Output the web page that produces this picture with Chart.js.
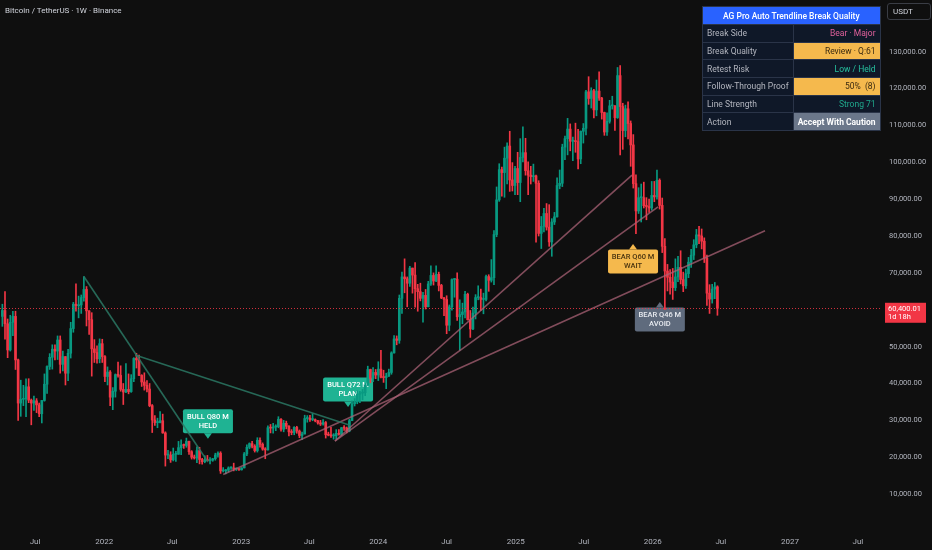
<!DOCTYPE html>
<html>
<head>
<meta charset="utf-8">
<title>BTCUSDT 1W</title>
<script src="https://cdn.jsdelivr.net/npm/chart.js@4.4.1/dist/chart.umd.min.js"></script>
<style>
html, body { margin: 0; padding: 0; background: #0f0f0f; }
#wrap { position: relative; width: 932px; height: 550px; overflow: hidden; font-family: Roboto, "Liberation Sans", sans-serif; }
#myChart { position: absolute; left: 0; top: 0; }
#title { position: absolute; left: 5px; top: 5px; font-size: 8px; line-height: 11px; color: #d1d4dc; }
#unit { position: absolute; left: 887px; top: 3px; width: 37px; height: 15px; border: 1px solid #3a3d45; border-radius: 3px;
        font-size: 8px; line-height: 15px; color: #d1d4dc; padding-left: 5px; box-sizing: content-box; }
#panel { position: absolute; left: 702px; top: 6px; width: 177px; border-collapse: collapse; font-size: 8.5px; color: #b2b5be; }
#panel th { background: #2962ff; color: #ffffff; font-weight: 500; height: 17px; padding: 0; border: 1px solid #2a3448; text-align: center; }
#panel td { background: #0f1828; height: 16.7px; padding: 0 4px; border: 1px solid #2a3448; white-space: pre; }
#panel td.v { text-align: right; width: 78px; }
</style>
</head>
<body>
<div id="wrap">
  <canvas id="myChart" width="932" height="550"></canvas>
  <div id="title">Bitcoin / TetherUS · 1W · Binance</div>
  <div id="unit">USDT</div>
  <table id="panel">
    <thead><tr><th colspan="2" id="panelTitle"></th></tr></thead>
    <tbody id="panelBody"></tbody>
  </table>
</div>
<script>
// weekly candles, first one = week of 2021-04-05, prices in thousands of USDT
const firstOpenK = 58.2;
const closesK = [
  // 2021
  59.8,56.2,49.1,56.6,58.2,46.4,34.7,35.7,35.8,39.1, 35.5,34.7,35.3,34.2,31.8,35.4,39.8,44.6,47.1,49.3,
  48.8,51.8,45.2,47.3,42.8,48.2,54.9,61.5,61.1,61.3, 63.3,65.5,59.7,57.3,49.4,48.4,46.7,50.8,47.3,
  // 2022
  41.9,43.1,36.3,37.9,42.4,42.2,38.4,37.7,38.4,37.8, 41.3,46.8,46.4,42.2,40.4,39.5,38.5,34.0,30.1,29.4,
  29.4,29.9,26.6,20.6,20.6,19.3,20.8,20.8,22.6,23.3, 23.2,24.3,21.5,20.0,19.8,21.8,19.4,18.8,19.3,19.1,
  19.2,19.6,20.6,21.1,16.3,16.3,16.5,17.1,17.1,16.8, 16.8,16.6,
  // 2023
  17.1,20.9,22.7,23.7,23.0,21.8,24.6,23.5,22.2,22.0, 28.0,27.9,28.2,28.3,30.3,27.6,29.2,28.4,26.9,26.7,
  28.1,27.1,25.9,26.3,30.5,30.6,30.2,30.2,29.9,29.3, 29.0,29.4,26.1,26.0,25.8,25.8,26.5,26.2,28.0,27.9,
  27.1,29.9,34.5,35.0,37.1,37.4,37.5,39.5,43.8,41.4, 43.0,42.3,
  // 2024
  43.9,41.7,41.6,42.0,43.0,48.3,52.1,51.7,63.1,68.9, 68.4,67.2,71.3,69.4,65.7,64.9,63.1,63.9,60.8,67.0,
  69.3,67.8,69.6,66.6,63.2,62.8,55.8,60.8,68.2,68.3, 58.1,58.7,59.4,64.2,57.3,54.8,59.1,63.3,63.3,62.8,
  62.8,69.0,68.0,68.7,80.4,89.8,98.0,97.2,101.1,104.4, 95.2,93.7,98.3,
  // 2025
  94.5,101.3,102.6,97.7,96.5,96.1,96.3,94.3,80.7,82.6, 86.1,82.4,78.4,83.8,85.2,93.7,94.3,104.1,106.4,109.0,
  105.7,105.7,105.6,100.9,108.4,109.2,119.1,117.3,119.4,114.2, 119.3,117.4,113.5,108.2,111.1,115.3,115.3,112.1,123.5,115.1,
  108.6,114.5,110.5,104.7,94.2,86.8,90.4,90.4,88.2,88.0, 87.6,91.0,
  // 2026
  90.6,95.1,88.3,77.2,70.5,68.8,67.5,66.0,68.9,71.5, 68.2,66.5,69.8,72.9,74.8,77.6,80.3,80.0,78.6,74.0,
  64.5,62.9,65.6,66.2,60.4
];
const highsK = [
  61.5,64.9,57.5,58.5,59.6,59.6,46.6,40.9,39.5,41.3, 41.3,35.8,36.6,35.9,34.7,35.4,42.6,44.8,48.1,50.5,
  50.5,52.9,52.9,48.8,47.3,49.3,56.6,62.0,67.0,63.7, 64.0,69.0,66.3,59.8,59.2,51.9,50.2,52.1,52.0,
  47.6,44.5,43.5,38.9,42.6,45.8,44.8,40.0,45.4,42.6, 42.4,47.0,48.2,47.7,42.4,42.9,40.8,40.0,34.3,31.3,
  30.6,32.4,31.7,26.9,21.9,21.5,22.5,21.6,24.3,24.7, 23.6,25.2,24.4,21.8,20.6,22.8,22.7,19.7,20.4,20.5,
  19.9,19.7,21.1,21.5,21.5,17.2,16.7,17.4,17.4,18.4, 17.1,17.0,
  17.2,21.3,23.4,23.9,24.3,23.4,25.3,25.3,23.9,22.6, 28.5,28.9,29.2,28.8,31.0,30.5,30.0,29.8,28.6,27.5,
  28.3,28.4,27.4,26.8,31.4,31.3,31.4,31.8,30.4,30.0, 30.0,30.2,29.7,26.8,28.1,26.4,27.5,27.5,28.1,28.6,
  28.2,30.3,35.3,35.9,38.0,37.9,38.4,40.0,44.7,43.9, 44.3,43.8,
  45.9,49.0,43.6,42.8,43.9,48.6,53.0,52.9,64.0,70.2, 73.8,68.9,71.8,71.3,72.8,66.9,67.2,64.7,65.5,67.7,
  71.9,70.0,71.9,70.2,66.9,63.4,63.8,61.3,68.4,68.5, 70.0,62.7,61.8,65.0,64.5,59.8,60.7,64.1,66.5,65.6,
  64.5,69.4,69.5,73.6,81.5,93.3,99.6,98.7,104.1,105.3, 108.4,99.9,98.9,
  102.7,106.4,109.6,106.5,100.1,98.9,99.5,96.5,95.0,85.3, 87.5,88.8,88.5,84.7,86.4,95.8,97.9,104.9,107.1,111.9,
  110.4,106.8,110.6,108.9,108.5,110.5,119.5,123.2,120.2,119.8, 122.3,124.5,117.6,113.6,113.4,116.8,117.9,115.4,125.7,126.2,
  116.0,115.5,116.4,111.2,107.5,96.6,93.1,94.1,94.6,90.4, 90.0,94.8,
  94.8,97.9,95.5,90.3,79.3,72.3,70.9,71.2,73.8,74.5, 76.0,70.2,71.0,74.2,76.4,79.0,81.8,82.6,81.9,79.5,
  74.8,66.8,66.9,67.4,66.5
];
const lowsK = [
  55.5,52.0,47.0,48.8,53.0,43.8,30.0,31.1,34.0,31.0, 34.8,28.8,32.7,32.1,31.0,29.3,35.2,37.3,43.8,43.9,
  46.4,46.5,42.8,43.4,39.6,40.8,46.9,53.9,59.6,57.8, 59.0,62.3,55.6,53.3,42.0,45.7,45.5,45.6,45.7,
  40.5,39.6,34.0,32.9,36.3,41.7,37.9,34.3,37.5,37.2, 37.6,40.5,44.2,42.1,39.2,38.2,37.7,33.7,26.7,28.6,
  28.0,29.3,26.5,17.6,19.6,18.6,19.0,18.9,20.8,20.7, 22.4,22.7,20.8,19.5,19.5,18.5,18.2,18.1,18.5,19.0,
  18.2,18.9,19.2,20.0,15.6,16.0,15.5,16.0,16.7,16.3, 16.4,16.4,
  16.5,17.1,20.4,22.3,22.5,21.4,21.4,22.7,21.9,19.6, 21.9,26.6,26.5,27.2,28.0,27.1,26.9,27.7,25.8,26.1,
  26.1,26.5,25.3,24.8,26.3,29.5,29.7,29.9,29.6,29.0, 28.6,28.7,25.2,25.8,25.4,24.9,24.9,26.0,25.9,27.3,
  26.6,26.9,29.9,33.9,34.5,34.8,35.6,36.7,39.5,40.2, 40.5,41.3,
  40.8,41.5,40.3,38.6,41.9,42.5,48.2,50.5,50.9,59.0, 64.6,60.8,66.3,64.5,60.7,59.6,62.4,56.6,60.2,60.8,
  66.6,66.7,67.6,65.1,63.0,58.4,53.5,54.3,59.9,63.4, 57.1,49.0,56.2,57.8,57.2,52.5,54.6,57.5,62.7,59.8,
  58.9,62.4,65.0,67.5,66.8,79.8,89.4,90.8,90.5,94.1, 92.1,92.2,91.2,
  91.2,89.3,100.1,96.5,91.2,94.1,94.8,78.3,80.0,76.6, 81.1,81.6,77.2,74.5,83.1,85.1,92.8,93.4,100.7,102.0,
  103.1,100.4,102.7,98.2,99.6,105.2,107.4,115.7,114.7,112.0, 112.6,116.8,111.7,107.3,107.3,110.6,114.4,108.6,111.9,102.0,
  103.5,106.9,106.3,98.9,93.0,80.6,86.1,83.8,87.6,84.4, 86.4,87.0,
  89.3,90.0,87.3,75.5,60.0,65.1,64.2,62.8,65.2,67.6, 67.0,64.9,65.8,68.7,71.5,73.6,76.8,77.9,76.5,72.8,
  61.2,59.0,61.8,63.0,58.5
];
const lastPrice = 60400.01;
const barCountdown = '1d 18h';

// x axis: weeks since first candle
const xTickWeeks = [12.43, 38.71, 64.57, 90.86, 116.71, 143.0, 169.0, 195.29, 221.14, 247.43, 273.29, 299.57, 325.43];
const xTickLabels = ['Jul', '2022', 'Jul', '2023', 'Jul', '2024', 'Jul', '2025', 'Jul', '2026', 'Jul', '2027', 'Jul'];
const priceTicksK = [10, 20, 30, 40, 50, 60, 70, 80, 90, 100, 110, 120, 130];

// auto trendlines (week, price in k)
const trendSide = ['bull', 'bull', 'bear', 'bear', 'bear'];
const trendStartWeek = [31, 50.5, 84.0, 126.5, 126.5];
const trendStartPrice = [69.0, 47.7, 15.3, 24.4, 24.4];
const trendEndWeek = [78.2, 132.2, 290.1, 239.5, 249.4];
const trendEndPrice = [18.7, 28.7, 81.4, 96.5, 87.9];

// break signals
const signalWeek = [78.2, 131.5, 239.9, 250.1];
const signalPrice = [25.0, 33.6, 77.8, 62.1];
const signalTitle = ['BULL Q80 M', 'BULL Q72 M', 'BEAR Q60 M', 'BEAR Q46 M'];
const signalStatus = ['HELD', 'PLAN', 'WAIT', 'AVOID'];

// dashboard panel
const panelTitle = 'AG Pro Auto Trendline Break Quality';
const panelLabels = ['Break Side', 'Break Quality', 'Retest Risk', 'Follow-Through Proof', 'Line Strength', 'Action'];
const panelValues = ['Bear · Major', 'Review · Q:61', 'Low / Held', '50%  (8)', 'Strong 71', 'Accept With Caution'];

const UP = '#089981', DOWN = '#f23645';
const statusStyle = {
  HELD: { bg: '#1fb393', fg: '#ffffff' },
  PLAN: { bg: '#1fb393', fg: '#ffffff' },
  WAIT: { bg: '#f5b94d', fg: '#4a3410' },
  AVOID: { bg: '#5f6b7d', fg: '#e8ebf0' }
};
const panelStyle = [
  { color: '#e0609c' },
  { color: '#3a2a10', bg: '#f5b94d' },
  { color: '#26c2a0' },
  { color: '#3a2a10', bg: '#f5b94d' },
  { color: '#1fa88c' },
  { color: '#ffffff', bg: '#6b778a', bold: true }
];

// panel
document.getElementById('panelTitle').textContent = panelTitle;
const tbody = document.getElementById('panelBody');
panelLabels.forEach((lab, i) => {
  const tr = document.createElement('tr');
  const a = document.createElement('td');
  a.textContent = lab;
  const b = document.createElement('td');
  b.className = 'v';
  b.textContent = panelValues[i];
  b.style.color = panelStyle[i].color;
  if (panelStyle[i].bg) b.style.background = panelStyle[i].bg;
  if (panelStyle[i].bold) b.style.fontWeight = 'bold';
  tr.appendChild(a);
  tr.appendChild(b);
  tbody.appendChild(tr);
});

// candles
const opensK = closesK.map((c, i) => i === 0 ? firstOpenK : closesK[i - 1]);
const candleColor = closesK.map((c, i) => c >= opensK[i] ? UP : DOWN);
const wickData = closesK.map((c, i) => ({ x: i, y: [lowsK[i], highsK[i]] }));
const bodyData = closesK.map((c, i) => ({ x: i, y: [opensK[i], c] }));

const trendSets = trendSide.map((side, i) => ({
  type: 'line',
  data: [{ x: trendStartWeek[i], y: trendStartPrice[i] }, { x: trendEndWeek[i], y: trendEndPrice[i] }],
  borderColor: side === 'bull' ? 'rgba(42,120,100,0.85)' : 'rgba(170,98,118,0.75)',
  borderWidth: 1.6,
  pointRadius: 0,
  order: 0
}));

const bgPlugin = {
  id: 'bg',
  beforeDraw(chart) {
    const c = chart.ctx;
    c.save();
    c.fillStyle = '#0f0f0f';
    c.fillRect(0, 0, chart.width, chart.height);
    c.restore();
  }
};

function roundRect(c, x, y, w, h, r) {
  c.beginPath();
  c.moveTo(x + r, y);
  c.lineTo(x + w - r, y);
  c.quadraticCurveTo(x + w, y, x + w, y + r);
  c.lineTo(x + w, y + h - r);
  c.quadraticCurveTo(x + w, y + h, x + w - r, y + h);
  c.lineTo(x + r, y + h);
  c.quadraticCurveTo(x, y + h, x, y + h - r);
  c.lineTo(x, y + r);
  c.quadraticCurveTo(x, y, x + r, y);
  c.closePath();
}

const signalPlugin = {
  id: 'signals',
  beforeDatasetsDraw(chart) {
    const c = chart.ctx, xs = chart.scales.x, ys = chart.scales.y;
    c.save();
    signalTitle.forEach((t, i) => {
      const st = statusStyle[signalStatus[i]];
      const px = xs.getPixelForValue(signalWeek[i]);
      const py = ys.getPixelForValue(signalPrice[i]);
      const bull = t.startsWith('BULL');
      const w = 50, h = 24, ah = 5.5;
      const top = bull ? py - ah - h : py + ah;
      c.fillStyle = st.bg;
      roundRect(c, px - w / 2, top, w, h, 2);
      c.fill();
      c.beginPath();
      if (bull) {
        c.moveTo(px - 4, top + h); c.lineTo(px + 4, top + h); c.lineTo(px, py);
      } else {
        c.moveTo(px - 4, top); c.lineTo(px + 4, top); c.lineTo(px, py);
      }
      c.closePath();
      c.fill();
      c.fillStyle = st.fg;
      c.font = '500 7.5px Roboto';
      c.textAlign = 'center';
      c.textBaseline = 'middle';
      c.fillText(t, px, top + 7.5);
      c.fillText(signalStatus[i], px, top + 16.5);
    });
    c.restore();
  }
};

const pricePlugin = {
  id: 'lastPrice',
  afterDraw(chart) {
    const c = chart.ctx, ys = chart.scales.y, area = chart.chartArea;
    const py = ys.getPixelForValue(lastPrice / 1000);
    c.save();
    c.strokeStyle = 'rgba(242,54,69,0.85)';
    c.lineWidth = 1;
    c.setLineDash([1, 2]);
    c.beginPath();
    c.moveTo(area.left, Math.round(py) + 0.5);
    c.lineTo(area.right, Math.round(py) + 0.5);
    c.stroke();
    c.setLineDash([]);
    c.fillStyle = DOWN;
    c.fillRect(area.right + 3, py - 5.5, 41, 20);
    c.fillStyle = '#ffffff';
    c.font = '7.5px Roboto';
    c.textAlign = 'left';
    c.textBaseline = 'middle';
    c.fillText(lastPrice.toLocaleString('en-US', { minimumFractionDigits: 2 }), area.right + 6, py + 0.5);
    c.fillText(barCountdown, area.right + 6, py + 9);
    c.restore();
  }
};

new Chart(document.getElementById('myChart'), {
  type: 'bar',
  data: {
    datasets: [
      ...trendSets,
      {
        data: bodyData,
        backgroundColor: candleColor,
        barThickness: 2,
        minBarLength: 1,
        grouped: false,
        order: 1
      },
      {
        data: wickData,
        backgroundColor: candleColor,
        barThickness: 1,
        grouped: false,
        order: 2
      }
    ]
  },
  options: {
    responsive: false,
    animation: false,
    events: [],
    layout: { padding: 0 },
    scales: {
      x: {
        type: 'linear',
        min: -0.9,
        max: 334.6,
        offset: false,
        grid: { display: false, drawTicks: false },
        border: { display: false },
        afterBuildTicks(scale) { scale.ticks = xTickWeeks.map(v => ({ value: v })); },
        afterFit(scale) { scale.height = 19; scale.paddingLeft = 0; scale.paddingRight = 0; },
        ticks: {
          autoSkip: false,
          maxRotation: 0,
          padding: 6,
          color: '#b2b5be',
          font: { family: 'Roboto', size: 8 },
          callback: (v, i) => xTickLabels[i]
        }
      },
      y: {
        position: 'right',
        min: 0,
        max: 144,
        grid: { display: false, drawTicks: false },
        border: { display: false },
        afterBuildTicks(scale) { scale.ticks = priceTicksK.map(v => ({ value: v })); },
        afterFit(scale) { scale.width = 50; scale.paddingTop = 0; scale.paddingBottom = 0; },
        ticks: {
          padding: 7,
          color: '#b2b5be',
          font: { family: 'Roboto', size: 7.5 },
          callback: v => (v * 1000).toLocaleString('en-US', { minimumFractionDigits: 2 })
        }
      }
    },
    plugins: {
      legend: { display: false },
      tooltip: { enabled: false },
      title: { display: false }
    }
  },
  plugins: [bgPlugin, signalPlugin, pricePlugin]
});
</script>
</body>
</html>
